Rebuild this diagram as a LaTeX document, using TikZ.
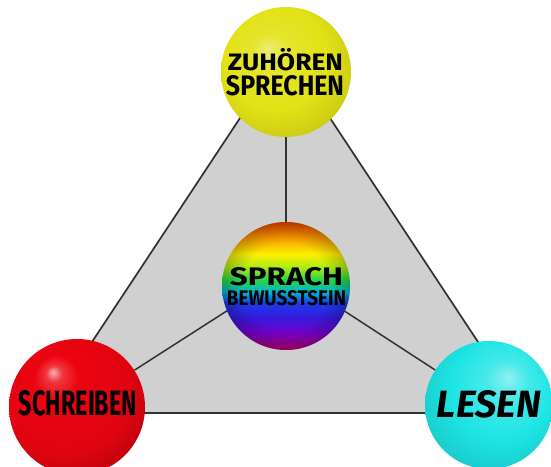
\documentclass[tikz,border=0pt]{standalone}
\usepackage{fontspec}
\setmainfont{Fira Sans}
\usepackage{graphicx}
\usetikzlibrary{fadings}
\definecolor{Ycol}{RGB}{226,226,22}
\definecolor{Rcol}{RGB}{236,4,16}
\definecolor{Ccol}{RGB}{30,228,228}
\definecolor{trifill}{RGB}{208,208,208}
\definecolor{lineC}{RGB}{50,50,50}
\definecolor{rb0}{RGB}{185,0,110}
\definecolor{rb1}{RGB}{120,0,205}
\definecolor{rb2}{RGB}{55,25,220}
\definecolor{rb3}{RGB}{25,60,235}
\definecolor{rb4}{RGB}{0,180,210}
\definecolor{rb5}{RGB}{40,215,70}
\definecolor{rb6}{RGB}{175,235,20}
\definecolor{rb7}{RGB}{252,240,0}
\definecolor{rb8}{RGB}{250,155,0}
\definecolor{rb9}{RGB}{230,70,0}
\pgfdeclareradialshading{sphYel}{\pgfpoint{-7bp}{9bp}}{color(0bp)=(Ycol!60!white); color(7bp)=(Ycol!90!white); color(20bp)=(Ycol); color(30bp)=(Ycol!90!black); color(50bp)=(Ycol!75!black)}
\pgfdeclareradialshading{sphRed}{\pgfpoint{-9bp}{13bp}}{color(0bp)=(Rcol!30!white); color(3bp)=(Rcol!80!white); color(8bp)=(Rcol); color(24bp)=(Rcol!95!black); color(32bp)=(Rcol!80!black); color(50bp)=(Rcol!62!black)}
\pgfdeclareradialshading{sphCy}{\pgfpoint{8bp}{11bp}}{color(0bp)=(Ccol!50!white); color(8bp)=(Ccol!82!white); color(20bp)=(Ccol); color(30bp)=(Ccol!90!black); color(50bp)=(Ccol!72!black)}
\pgfdeclareverticalshading{rainbowS}{100bp}{color(0bp)=(rb0); color(25bp)=(rb0); color(31.5bp)=(rb1); color(37.5bp)=(rb2); color(43.5bp)=(rb3); color(47.5bp)=(rb4); color(52.5bp)=(rb5); color(57.5bp)=(rb6); color(62.5bp)=(rb7); color(69bp)=(rb8); color(75bp)=(rb9); color(100bp)=(rb9)}
\pgfdeclareradialshading{ringshade}{\pgfpointorigin}{color(0bp)=(black); color(17bp)=(black); color(25bp)=(white!22!black); color(50bp)=(white!22!black)}
\pgfdeclarefading{ringfade}{\pgfuseshading{ringshade}}
\pgfdeclarelayer{bg}
\pgfsetlayers{bg,main}
\tikzset{
  sph/.style={circle, inner sep=0pt, shade},
  lbl/.style={inner sep=0pt, anchor=base, text=black, font=\bfseries},
  tri/.style={fill=trifill, draw=lineC, line width=1.7pt, line join=round},
  conn/.style={draw=lineC, line width=1.5pt}
}
\begin{document}
\begin{tikzpicture}[x=1pt,y=-1pt]
\useasboundingbox (0,0) rectangle (551,466);
\clip (0,0) rectangle (551,466);
% spheres
\node[sph, shading=sphYel, minimum size=130pt] (Y) at (286,72) {};
\node[sph, shading=rainbowS, minimum size=128pt] (C) at (286,286) {};
\fill[black, path fading=ringfade] (286,286) circle[radius=64pt];
\node[sph, shading=sphRed, minimum size=136pt] (R) at (77,407) {};
\node[sph, shading=sphCy, minimum size=128pt] (L) at (489,405) {};
% triangle and connectors behind
\begin{pgfonlayer}{bg}
\coordinate (T1) at (285,50);
\coordinate (T2) at (45,413);
\coordinate (T3) at (525,413);
\coordinate (hub) at (286,273);
\path[tri] (T1) -- (T2) -- (T3) -- cycle;
\draw[conn] (Y) -- (C);
\draw[conn] (hub) -- (R);
\draw[conn] (hub) -- (L);
\end{pgfonlayer}
% labels
\node[lbl] (tz1) at (285.5,70) {\resizebox{115pt}{22pt}{ZUHÖREN}};
\node[lbl] (tz2) at (285,95) {\resizebox{118pt}{20pt}{SPRECHEN}};
\node[lbl] (ts1) at (286.5,285) {\resizebox{113pt}{18pt}{SPRACH}};
\node[lbl] (ts2) at (286.5,305) {\resizebox{119pt}{15pt}{BEWUSSTSEIN}};
\node[lbl] (tr) at (78,415) {\resizebox{118pt}{25pt}{SCHREIBEN}};
\node[lbl, font=\bfseries\itshape] (tl) at (489,417) {\resizebox{104pt}{27pt}{LESEN}};
\end{tikzpicture}
\end{document}
